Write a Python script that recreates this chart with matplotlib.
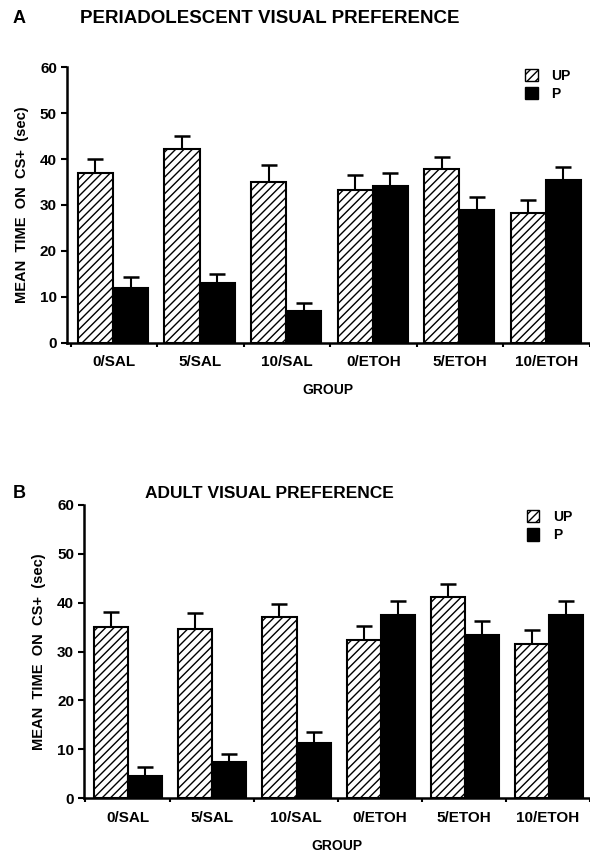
import numpy as np
import matplotlib
matplotlib.use("Agg")
import matplotlib.pyplot as plt
from matplotlib.patches import Patch

plt.rcParams['font.family'] = ['Liberation Sans', 'DejaVu Sans']
plt.rcParams['hatch.linewidth'] = 1.0

groups = ["0/SAL", "5/SAL", "10/SAL", "0/ETOH", "5/ETOH", "10/ETOH"]

# panel A - periadolescent
a_up = [37.0, 42.1, 35.1, 33.3, 37.8, 28.2]
a_up_err = [3.0, 2.9, 3.5, 3.2, 2.7, 2.9]
a_p = [11.9, 12.9, 6.9, 34.1, 28.8, 35.4]
a_p_err = [2.5, 2.0, 1.7, 2.8, 3.0, 2.9]

# panel B - adult
b_up = [35.1, 34.6, 37.0, 32.4, 41.2, 31.5]
b_up_err = [2.9, 3.2, 2.8, 2.8, 2.6, 2.9]
b_p = [4.6, 7.4, 11.4, 37.4, 33.3, 37.4]
b_p_err = [1.7, 1.6, 2.2, 2.9, 2.9, 2.9]


def draw_panel(ax, up, up_err, p, p_err, center):
    x = np.arange(len(groups))
    w = 0.405
    ax.bar(x + center - w / 2, up, width=w, color='white', edgecolor='black',
           hatch='////', linewidth=1.5, zorder=2)
    ax.bar(x + center + w / 2, p, width=w, color='black', edgecolor='black',
           linewidth=1.5, zorder=2)
    ax.errorbar(x + center - w / 2, up, yerr=[np.zeros(len(up)), up_err], fmt='none',
                ecolor='black', elinewidth=1.5, capsize=6, capthick=1.8, zorder=1)
    ax.errorbar(x + center + w / 2, p, yerr=[np.zeros(len(p)), p_err], fmt='none',
                ecolor='black', elinewidth=1.5, capsize=6, capthick=1.8, zorder=1)

    ax.set_ylim(0, 60)
    ax.set_yticks(range(0, 61, 10))
    ax.set_xticks(np.arange(0, 7))
    ax.set_xticklabels([])
    ax.set_xticks(x + 0.5, minor=True)
    ax.set_xticklabels(groups, minor=True, fontsize=11, fontweight='bold')
    ax.tick_params(axis='x', which='minor', length=0, pad=9)
    ax.tick_params(axis='x', which='major', length=3, width=1.5, direction='out')
    ax.tick_params(axis='y', length=4, width=1.5, direction='out', labelsize=11, pad=3)
    for lab in ax.get_yticklabels():
        lab.set_fontweight('bold')
    for s in ['top', 'right']:
        ax.spines[s].set_visible(False)
    ax.spines['left'].set_linewidth(1.8)
    ax.spines['bottom'].set_linewidth(1.8)
    ax.set_ylabel("MEAN  TIME  ON  CS+  (sec)", fontsize=10.5, fontweight='bold', labelpad=8)
    ax.set_xlabel("GROUP", fontsize=10, fontweight='bold', labelpad=10)
    handles = [Patch(facecolor='white', edgecolor='black', hatch='////', label='UP'),
               Patch(facecolor='black', edgecolor='black', label='P')]
    return handles


fig = plt.figure(figsize=(5.9, 8.58), dpi=100)

ax1 = fig.add_axes([0.113, 0.6006, 0.887, 0.321])
h = draw_panel(ax1, a_up, a_up_err, a_p, a_p_err, 0.49)
ax1.set_xlim(-0.045, 6.0)
ax1.legend(handles=h, loc='upper left', bbox_to_anchor=(0.852, 1.04), frameon=False,
           prop={'size': 10, 'weight': 'bold'}, handlelength=0.9, handleheight=1.0,
           handletextpad=1.0, labelspacing=0.3)

ax2 = fig.add_axes([0.142, 0.0696, 0.858, 0.342])
h = draw_panel(ax2, b_up, b_up_err, b_p, b_p_err, 0.51)
ax2.set_xlim(-0.02, 6.0)
ax2.legend(handles=h, loc='upper left', bbox_to_anchor=(0.85, 1.025), frameon=False,
           prop={'size': 10, 'weight': 'bold'}, handlelength=0.9, handleheight=1.0,
           handletextpad=1.0, labelspacing=0.3)

fig.text(0.022, 0.979, "A", fontsize=13, fontweight='bold', va='center')
fig.text(0.457, 0.979, "PERIADOLESCENT VISUAL PREFERENCE", fontsize=13.5,
         fontweight='bold', va='center', ha='center')
fig.text(0.022, 0.425, "B", fontsize=13, fontweight='bold', va='center')
fig.text(0.456, 0.425, "ADULT VISUAL PREFERENCE", fontsize=12.5,
         fontweight='bold', va='center', ha='center')

fig.savefig("out.png", dpi=100)
